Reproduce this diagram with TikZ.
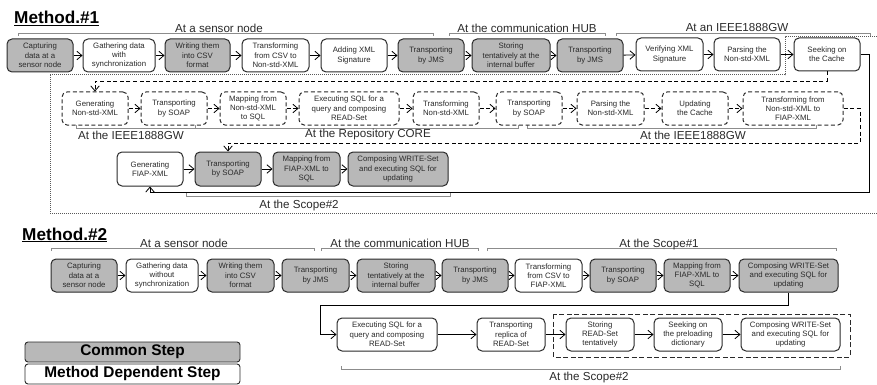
\documentclass[tikz,border=0pt]{standalone}
\usepackage{fontspec}
\setmainfont{Liberation Sans}
\usetikzlibrary{arrows.meta,calc}
\definecolor{stepgray}{HTML}{B8B8B8}
\definecolor{brk}{HTML}{8C8C8C}
\definecolor{ink}{HTML}{2A2A2A}
\tikzset{
  stepbox/.style={draw=ink,line width=1pt,rounded corners=5pt,inner sep=0pt,align=center,text=ink,font=\fontsize{7.8}{9.3}\selectfont},
  common/.style={stepbox,fill=stepgray},
  own/.style={stepbox,fill=white},
  dep/.style={stepbox,fill=white,dash pattern=on 4pt off 2.6pt},
  link/.style={draw=black,line width=0.9pt,-{Straight Barb[length=5pt,width=8.5pt,line width=0.8pt]}},
  dlink/.style={link,dash pattern=on 4pt off 2.6pt},
  bracket/.style={draw=brk,line width=0.9pt},
  place/.style={inner sep=0pt,text=ink,font=\fontsize{11.6}{13}\selectfont},
  legend/.style={draw=ink,line width=0.9pt,rounded corners=3pt,inner sep=0pt,font=\fontsize{15.4}{17}\selectfont\bfseries},
  heading/.style={inner sep=0pt,anchor=base west,font=\fontsize{17.2}{19}\selectfont\bfseries},
  frameline/.style={draw=black!65,line width=1pt,dash pattern=on 1pt off 1pt},
}
\newcommand{\bx}[7]{%
  \node[#1,minimum width=#4pt-#3pt,minimum height=#6pt-#5pt] (#2) at ({(#3+#4)/2},{(#5+#6)/2}) {#7};}
\newcommand{\ubk}[3]{\draw[bracket] (#1,#3+3) -- (#1,#3) -- (#2,#3) -- (#2,#3+3);}
\newcommand{\lbk}[3]{\draw[bracket] (#1,#3-3) -- (#1,#3) -- (#2,#3) -- (#2,#3-3);}
\begin{document}
\begin{tikzpicture}[x=1pt,y=-1pt]
\useasboundingbox (0,0) rectangle (877,385);
% headings
\node[heading] (h1) at (14,23.5) {\underline{Method.\#1}};
\node[heading] (h2) at (22,240) {\underline{Method.\#2}};
% dotted frame
\draw[frameline] (50,75) -- (785,75) -- (785,37) -- (877,37);
\draw[frameline] (50,75) -- (50,213) -- (877,213);
% brackets + place labels, method 1
\ubk{18}{433}{33} \ubk{449}{605}{33} \ubk{616}{870}{33}
\node[place] (l1) at (219,28.5) {At a sensor node};
\node[place] (l2) at (527,28.5) {At the communication HUB};
\node[place] (l3) at (737,27.5) {At an IEEE1888GW};
\lbk{76}{195}{128} \lbk{195}{518}{128} \lbk{527}{816}{128}
\node[place] (l4) at (131,135) {At the IEEE1888GW};
\node[place] (l5) at (368,135) {At the Repository CORE};
\node[place] (l6) at (693,135) {At the IEEE1888GW};
\lbk{186}{450}{196}
\node[place] (l7) at (299,205) {At the Scope\#2};
% method 1 row 1
\bx{common}{a1}{7}{73}{39}{72}{Capturing\\data at a\\sensor node}
\bx{own}{a2}{83}{155}{39}{72}{Gathering data\\with\\synchronization}
\bx{common}{a3}{165}{230}{39}{72}{Writing them\\into CSV\\format}
\bx{own}{a4}{242}{309}{39}{72}{Transforming\\from CSV to\\Non-std-XML}
\bx{own}{a5}{321}{387}{39}{72}{Adding XML\\Signature}
\bx{common}{a6}{398}{464}{39}{72}{Transporting\\by JMS}
\bx{common}{a7}{472}{550}{39}{72}{Storing\\tentatively at the\\internal buffer}
\bx{common}{a8}{557}{623}{39}{72}{Transporting\\by JMS}
\bx{own}{a9}{636}{703}{38}{71}{Verifying XML\\Signature}
\bx{own}{a10}{714}{780}{38}{71}{Parsing the\\Non-std-XML}
\bx{own}{a11}{794}{860}{38}{71}{Seeking on\\the Cache}
% row 2
\bx{dep}{b1}{62}{128}{92}{125}{Generating\\Non-std-XML}
\bx{dep}{b2}{141}{207}{92}{125}{Transporting\\by SOAP}
\bx{dep}{b3}{220}{286}{92}{125}{Mapping from\\Non-std-XML\\to SQL}
\bx{dep}{b4}{299}{399}{92}{125}{Executing SQL for a\\query and composing\\READ-Set}
\bx{dep}{b5}{413}{479}{92}{125}{Transforming\\Non-std-XML}
\bx{dep}{b6}{496}{562}{92}{125}{Transporting\\by SOAP}
\bx{dep}{b7}{577}{644}{92}{125}{Parsing the\\Non-std-XML}
\bx{dep}{b8}{662}{728}{92}{125}{Updating\\the Cache}
\bx{dep}{b9}{743}{843}{92}{125}{Transforming from\\Non-std-XML to\\FIAP-XML}
% row 3
\bx{own}{c1}{117}{183}{152}{186}{Generating\\FIAP-XML}
\bx{common}{c2}{195}{261}{152}{186}{Transporting\\by SOAP}
\bx{common}{c3}{273}{340}{152}{186}{Mapping from\\FIAP-XML to\\SQL}
\bx{common}{c4}{348}{448}{152}{186}{Composing WRITE-Set\\and executing SQL for\\updating}
% method 1 links
\foreach \s/\t in {a1/a2,a2/a3,a3/a4,a4/a5,a5/a6,a6/a7,a7/a8,a8/a9,a9/a10,a10/a11,c1/c2,c2/c3,c3/c4}
  \draw[link] (\s) -- (\t);
\foreach \s/\t in {b1/b2,b2/b3,b3/b4,b4/b5,b5/b6,b6/b7,b7/b8,b8/b9}
  \draw[dlink] (\s) -- (\t);
\coordinate (w1) at (827,81);
\coordinate (w2) at (95,81);
\draw[dlink] (a11.south) -- (w1) -- (w2) -- (b1.north);
\coordinate (w3) at (860,108.5);
\coordinate (w4) at (860,143);
\coordinate (w5) at (228,143);
\draw[dlink] (b9.east) -- (w3) -- (w4) -- (w5) -- (c2.north);
\coordinate (w6) at (869,54.5);
\coordinate (w7) at (869,192);
\coordinate (w8) at (150,192);
\draw[link] (a11.east) -- (w6) -- (w7) -- (w8) -- (c1.south);
% method 2 brackets
\ubk{51}{314}{248} \ubk{321}{478}{248} \ubk{487}{836}{248}
\node[place] (m1) at (184,243) {At a sensor node};
\node[place] (m2) at (400,243) {At the communication HUB};
\node[place] (m3) at (659,244) {At the Scope\#1};
\lbk{341}{840}{369}
\node[place] (m4) at (589,377) {At the Scope\#2};
% dashed enclosure
\draw[draw=ink,line width=0.9pt,dash pattern=on 5pt off 2.6pt] (553,314) rectangle (850,357);
% method 2 row 1
\bx{common}{d1}{51}{117}{259}{292}{Capturing\\data at a\\sensor node}
\bx{own}{d2}{126}{198}{259}{292}{Gathering data\\without\\synchronization}
\bx{common}{d3}{207}{274}{259}{292}{Writing them\\into CSV\\format}
\bx{common}{d4}{282}{349}{259}{292}{Transporting\\by JMS}
\bx{common}{d5}{357}{435}{259}{292}{Storing\\tentatively at the\\internal buffer}
\bx{common}{d6}{442}{508}{259}{292}{Transporting\\by JMS}
\bx{own}{d7}{515}{582}{259}{292}{Transforming\\from CSV to\\FIAP-XML}
\bx{common}{d8}{590}{656}{259}{292}{Transporting\\by SOAP}
\bx{common}{d9}{664}{730}{259}{292}{Mapping from\\FIAP-XML to\\SQL}
\bx{common}{d10}{739}{838}{259}{292}{Composing WRITE-Set\\and executing SQL for\\updating}
% row 2
\bx{own}{e1}{337}{437}{318}{351}{Executing SQL for a\\query and composing\\READ-Set}
\bx{own}{e2}{477}{545}{318}{351}{Transporting\\replica of\\READ-Set}
\bx{own}{e3}{566}{634}{318}{351}{Storing\\READ-Set\\tentatively}
\bx{own}{e4}{654}{722}{318}{351}{Seeking on\\the preloading\\dictionary}
\bx{own}{e5}{741}{840}{318}{351}{Composing WRITE-Set\\and executing SQL for\\updating}
\foreach \s/\t in {d1/d2,d2/d3,d3/d4,d4/d5,d5/d6,d6/d7,d7/d8,d8/d9,d9/d10,e1/e2,e2/e3,e3/e4,e4/e5}
  \draw[link] (\s) -- (\t);
\coordinate (w9) at (788.5,305);
\coordinate (w10) at (320,305);
\coordinate (w11) at (320,334.5);
\draw[link] (d10.south) -- (w9) -- (w10) -- (w11) -- (e1.west);
% legend
\bx{legend,fill=stepgray}{k1}{25}{240}{342}{362}{Common Step}
\bx{legend,fill=white}{k2}{25}{240}{364}{384}{Method Dependent Step}
\end{tikzpicture}
\end{document}
